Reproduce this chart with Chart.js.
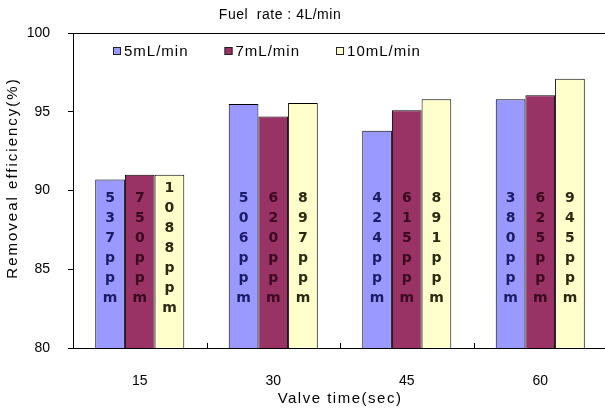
<!DOCTYPE html>
<html>
<head>
<meta charset="utf-8">
<script src="https://cdn.jsdelivr.net/npm/chart.js@4.4.0/dist/chart.umd.min.js"></script>
<style>
  html, body { margin: 0; padding: 0; background: #fff; overflow: hidden; }
  canvas { display: block; }
</style>
</head>
<body>
<canvas id="chart" width="615" height="413"></canvas>
<script>
// data
var valveTimes = ['15', '30', '45', '60'];
var seriesNames = ['5mL/min', '7mL/min', '10mL/min'];
var eff5 = [90.7, 95.5, 93.8, 95.8];
var eff7 = [91.0, 94.7, 95.1, 96.05];
var eff10 = [91.0, 95.55, 95.8, 97.1];
var ppm5 = ['537', '506', '424', '380'];
var ppm7 = ['750', '620', '615', '625'];
var ppm10 = ['1088', '897', '891', '945'];
var yTicks = [80, 85, 90, 95, 100];

var barColors = ['#9999ff', '#993366', '#ffffcc'];
var ppmColors = ['#1c1c66', '#3a0a1e', '#2a2a10'];
var ppmLabels = [ppm5, ppm7, ppm10];
var axisFont = 'Liberation Sans';

// chart frame, titles, legend, inner tick marks and the ppm texts
var decorations = {
    id: 'decorations',
    afterDraw: function (chart) {
        var c = chart.ctx, a = chart.chartArea;
        var x = chart.scales.x, y = chart.scales.y;
        c.save();
        c.strokeStyle = '#000';
        c.lineWidth = 1;
        c.strokeRect(a.left + 0.5, a.top + 0.5, a.right - a.left, a.bottom - a.top);

        // small marks between the groups
        for (var i = 1; i < valveTimes.length; i++) {
            var px = Math.round((x.getPixelForValue(i - 1) + x.getPixelForValue(i)) / 2) + 0.5;
            c.beginPath();
            c.moveTo(px, a.bottom);
            c.lineTo(px, a.bottom - 5);
            c.stroke();
        }

        // titles
        c.fillStyle = '#000';
        c.font = '14px ' + axisFont;
        c.letterSpacing = '0.5px';
        c.textAlign = 'center';
        c.textBaseline = 'middle';
        c.fillText('Fuel  rate : 4L/min', 280, 15);

        c.font = '15px ' + axisFont;
        c.letterSpacing = '1.5px';
        c.fillText('Valve time(sec)', (a.left + a.right) / 2, 399);
        c.save();
        c.translate(13, 178);
        c.rotate(-Math.PI / 2);
        c.letterSpacing = '2px';
        c.fillText('Removeal efficiency(%)', 0, 0);
        c.restore();

        // legend inside the plot
        c.font = '15px ' + axisFont;
        c.letterSpacing = '1px';
        c.textAlign = 'left';
        var lx = 113, ly = 51;
        for (var k = 0; k < seriesNames.length; k++) {
            c.fillStyle = barColors[k];
            c.fillRect(lx, ly - 4, 8, 8);
            c.strokeStyle = '#222';
            c.strokeRect(lx + 0.5, ly - 3.5, 7, 7);
            c.fillStyle = '#000';
            c.fillText(seriesNames[k], lx + 11, ly + 1);
            lx += 11 + c.measureText(seriesNames[k]).width + 36;
        }
        c.letterSpacing = '0px';

        // vertical ppm texts in the bars
        c.font = 'bold 14px "DejaVu Sans"';
        c.textAlign = 'center';
        var midY = y.getPixelForValue(86.35);
        chart.data.datasets.forEach(function (ds, di) {
            chart.getDatasetMeta(di).data.forEach(function (bar, bi) {
                var chars = (ppmLabels[di][bi] + 'ppm').split('');
                var start = midY - (chars.length - 1) * 10;
                c.fillStyle = ppmColors[di];
                chars.forEach(function (ch, n) {
                    c.fillText(ch, bar.x, start + n * 20);
                });
            });
        });
        c.restore();
    }
};

var ctx = document.getElementById('chart').getContext('2d');
var chart = new Chart(ctx, {
    type: 'bar',
    data: {
        labels: valveTimes,
        datasets: [
            { label: seriesNames[0], data: eff5, backgroundColor: barColors[0], borderColor: '#000', borderWidth: 1 },
            { label: seriesNames[1], data: eff7, backgroundColor: barColors[1], borderColor: '#000', borderWidth: 1 },
            { label: seriesNames[2], data: eff10, backgroundColor: barColors[2], borderColor: '#000', borderWidth: 1 }
        ]
    },
    options: {
        responsive: false,
        animation: false,
        layout: { padding: { top: 33, right: 8, left: 0, bottom: 0 } },
        datasets: {
            bar: { categoryPercentage: 0.667, barPercentage: 1 }
        },
        plugins: {
            legend: { display: false },
            tooltip: { enabled: false }
        },
        scales: {
            x: {
                grid: { display: false },
                border: { color: '#000' },
                ticks: { color: '#000', font: { family: axisFont, size: 14 }, padding: 17 },
                afterFit: function (s) { s.height = 65; }
            },
            y: {
                min: 80,
                max: 100,
                afterBuildTicks: function (s) {
                    s.ticks = yTicks.map(function (v) { return { value: v }; });
                },
                grid: { drawOnChartArea: false, tickLength: 5, color: '#000' },
                border: { color: '#000' },
                ticks: { color: '#000', font: { family: axisFont, size: 14 }, padding: 18 },
                afterFit: function (s) { s.width = 73; }
            }
        }
    },
    plugins: [decorations]
});
</script>
</body>
</html>
